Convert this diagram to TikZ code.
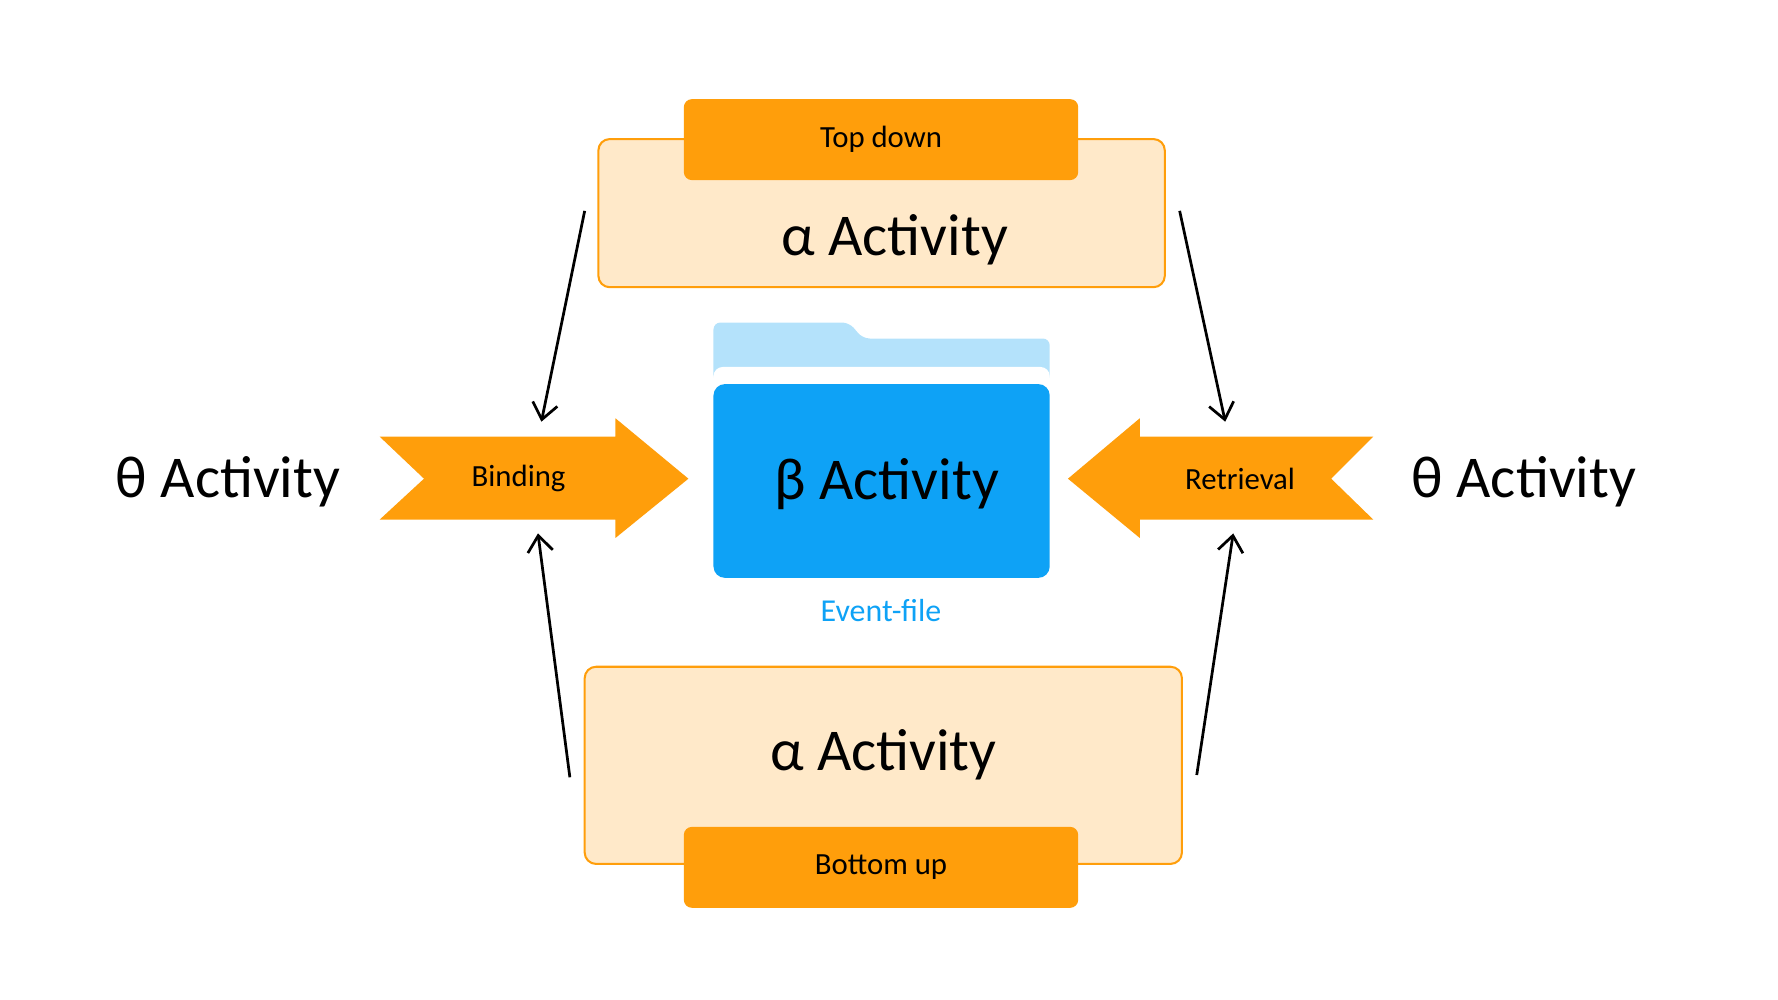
\documentclass[tikz,border=0pt]{standalone}
\usepackage{fontspec}
\setmainfont{Carlito}
\usetikzlibrary{arrows.meta,positioning}
\definecolor{orng}{HTML}{FF9E0B}
\definecolor{lightorng}{HTML}{FFE9C9}
\definecolor{fblue}{HTML}{0EA2F6}
\definecolor{fbluelight}{HTML}{B4E2FB}
\tikzset{
  panel/.style={draw=orng,line width=1.8pt,fill=lightorng,rounded corners=10pt},
  tab/.style={fill=orng,rounded corners=7pt,minimum width=346pt,minimum height=71pt,font=\fontsize{27}{30}\selectfont},
  big/.style={font=\fontsize{52}{60}\selectfont},
  flow/.style={-{Straight Barb[length=14pt,width=22pt]},line width=2.4pt}
}
\begin{document}
\begin{tikzpicture}[x=1pt,y=-1pt,line join=round]
\useasboundingbox (0,0) rectangle (1560,877);
% top and bottom panels
\draw[panel] (525,122) rectangle (1022,252);
\node[tab] (td) at (773,122.5) {Top down};
\node[big] (atop) at (785,210) {α Activity};
\draw[panel] (513,585) rectangle (1037,758);
\node[tab] (bu) at (773,761) {Bottom up};
\node[big] (abot) at (775,662) {α Activity};
% folder
\fill[fbluelight,rounded corners=6pt] (626,335) -- (626,283) -- (745,283) -- (757,297) -- (921,297) -- (921,335) -- cycle;
\fill[white,rounded corners=8pt] (626,322) rectangle (921,345);
\fill[fblue,rounded corners=10pt] (626,337) rectangle (921,507);
\node[big] (beta) at (778,425) {β Activity};
\node[text=fblue,font=\fontsize{28}{32}\selectfont] (ef) at (773,536) {Event-file};
% banner arrows
\fill[orng] (333,383) -- (540,383) -- (540,367) -- (604,420) -- (540,472) -- (540,456) -- (333,456) -- (372,420) -- cycle;
\node[font=\fontsize{27}{30}\selectfont] (bind) at (455,420) {Binding};
\fill[orng] (1205,383) -- (1000,383) -- (1000,367) -- (937,420) -- (1000,472) -- (1000,456) -- (1205,456) -- (1168,420) -- cycle;
\node[font=\fontsize{27}{30}\selectfont] (retr) at (1088,420) {Retrieval};
\node[big] (thl) at (200,423) {θ Activity};
\node[big] (thr) at (1337,423) {θ Activity};
% connectors
\coordinate (tl) at (513,185); \coordinate (tlh) at (475,370);
\coordinate (tr) at (1035,185); \coordinate (trh) at (1075,370);
\coordinate (bl) at (500,682); \coordinate (blh) at (472,468);
\coordinate (br) at (1050,680); \coordinate (brh) at (1082,468);
\draw[flow] (tl) -- (tlh);
\draw[flow] (tr) -- (trh);
\draw[flow] (bl) -- (blh);
\draw[flow] (br) -- (brh);
\end{tikzpicture}
\end{document}
